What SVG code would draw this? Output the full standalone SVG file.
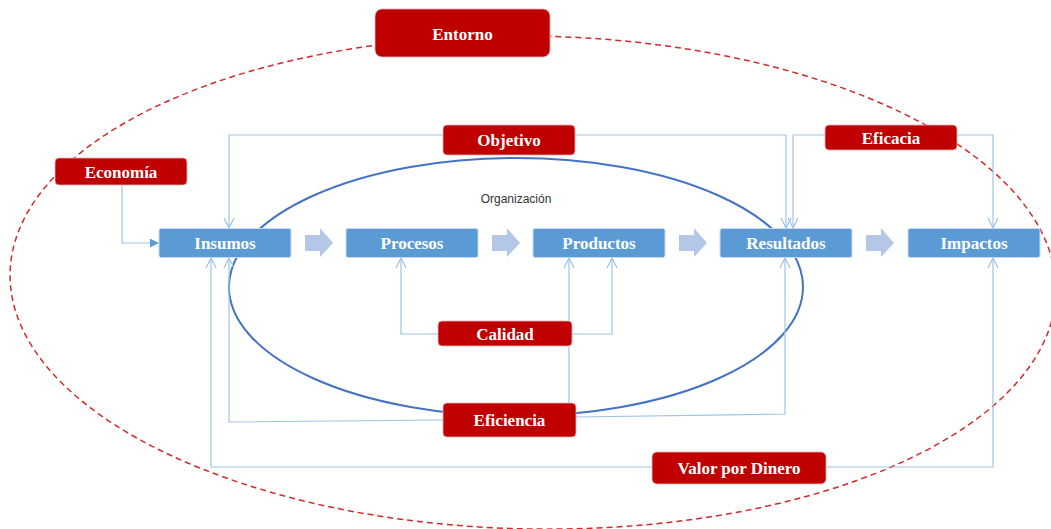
<svg xmlns="http://www.w3.org/2000/svg" width="1051" height="529" viewBox="0 0 1051 529">
<defs>
<style>
.red{fill:#C00000;stroke:#E8B4B4;stroke-width:0.8}
.blue{fill:#5B9BD5;stroke:#C5DAF0;stroke-width:1}
.lbl{font-family:"Liberation Serif","Times New Roman",serif;font-weight:bold;font-size:17px;fill:#FFFFFF;text-anchor:middle}
.con{fill:none;stroke:#9DC3E6;stroke-width:1.2}
.blk{fill:#B4C7E7}
</style>
<marker id="open" viewBox="0 0 12 12" refX="11" refY="6" markerWidth="12" markerHeight="12" markerUnits="userSpaceOnUse" orient="auto">
<path d="M1,1 L11,6 L1,11" fill="none" stroke="#9DC3E6" stroke-width="1.2"/>
</marker>
<marker id="solid" viewBox="0 0 10 10" refX="9" refY="5" markerWidth="9" markerHeight="9" markerUnits="userSpaceOnUse" orient="auto">
<path d="M0,0 L10,5 L0,10 Z" fill="#5B9BD5"/>
</marker>
</defs>
<rect width="1051" height="529" fill="#FFFFFF"/>

<g id="entorno-boundary">
<ellipse cx="533" cy="282.5" rx="523" ry="246.5" transform="rotate(1 533 282.5)" fill="none" stroke="#D02B2B" stroke-width="1.5" stroke-dasharray="6 4"/>
</g>

<g id="organizacion">
<ellipse cx="516" cy="287" rx="287" ry="129" fill="none" stroke="#4472C4" stroke-width="2"/>
<text x="516" y="203" font-family="Liberation Sans, Arial, sans-serif" font-size="12" fill="#333333" text-anchor="middle">Organización</text>
</g>

<g id="connectors">
<path class="con" d="M122,185 V243 H158" marker-end="url(#solid)"/>
<path class="con" d="M443,135 H229 V228" marker-end="url(#open)"/>
<path class="con" d="M575,135 H786 V228" marker-end="url(#open)"/>
<path class="con" d="M825,135 H793 V228" marker-end="url(#open)"/>
<path class="con" d="M957,135 H993 V228" marker-end="url(#open)"/>
<path class="con" d="M438,334 H401 V258" marker-end="url(#open)"/>
<path class="con" d="M572,334 H612 V258" marker-end="url(#open)"/>
<path class="con" d="M569,403 V258" marker-end="url(#open)"/>
<path class="con" d="M443,420 L229,422 V258" marker-end="url(#open)"/>
<path class="con" d="M576,417 L785,414 V258" marker-end="url(#open)"/>
<path class="con" d="M652,467 H211 V258" marker-end="url(#open)"/>
<path class="con" d="M826,467 H993 V258" marker-end="url(#open)"/>
</g>

<g id="flow-arrows">
<path class="blk" d="M305,235 H320 V228 L333,243 L320,257 V251 H305 Z"/>
<path class="blk" d="M492,235 H507 V228 L520,243 L507,257 V251 H492 Z"/>
<path class="blk" d="M679,235 H694 V228 L707,243 L694,257 V251 H679 Z"/>
<path class="blk" d="M866,235 H881 V228 L894,243 L881,257 V251 H866 Z"/>
</g>

<g id="insumos"><rect class="blue" x="159" y="228.5" width="132" height="29" rx="2"/><text class="lbl" x="225" y="249">Insumos</text></g>
<g id="procesos"><rect class="blue" x="346" y="228.5" width="132" height="29" rx="2"/><text class="lbl" x="412" y="249">Procesos</text></g>
<g id="productos"><rect class="blue" x="533" y="228.5" width="132" height="29" rx="2"/><text class="lbl" x="599" y="249">Productos</text></g>
<g id="resultados"><rect class="blue" x="720" y="228.5" width="132" height="29" rx="2"/><text class="lbl" x="786" y="249">Resultados</text></g>
<g id="impactos"><rect class="blue" x="908" y="228.5" width="132" height="29" rx="2"/><text class="lbl" x="974" y="249">Impactos</text></g>

<g id="entorno"><rect class="red" x="375" y="9" width="175" height="48" rx="7"/><text class="lbl" x="462.5" y="39.5">Entorno</text></g>
<g id="objetivo"><rect class="red" x="443" y="125" width="132" height="30" rx="4"/><text class="lbl" x="509" y="146">Objetivo</text></g>
<g id="eficacia"><rect class="red" x="825" y="125" width="132" height="25" rx="4"/><text class="lbl" x="891" y="143.5">Eficacia</text></g>
<g id="economia"><rect class="red" x="55" y="158" width="132" height="27" rx="4"/><text class="lbl" x="121" y="177.5">Economía</text></g>
<g id="calidad"><rect class="red" x="438" y="321" width="134" height="25" rx="4"/><text class="lbl" x="505" y="339.5">Calidad</text></g>
<g id="eficiencia"><rect class="red" x="443" y="403" width="133" height="34" rx="4"/><text class="lbl" x="509.5" y="426">Eficiencia</text></g>
<g id="valor-por-dinero"><rect class="red" x="652" y="452" width="174" height="32" rx="5"/><text class="lbl" x="739" y="474">Valor por Dinero</text></g>
</svg>
